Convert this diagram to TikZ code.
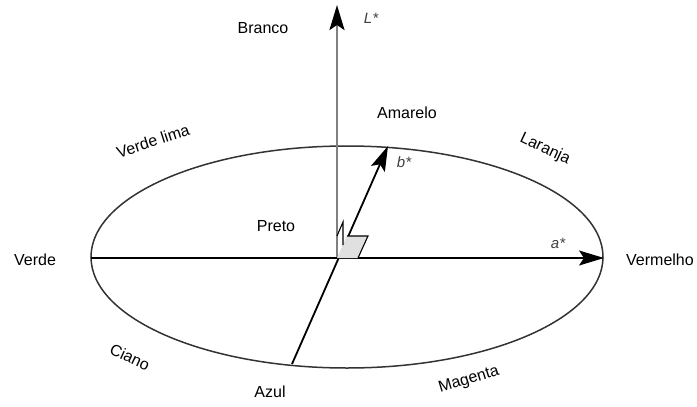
\documentclass[tikz,border=0pt]{standalone}
\usepackage{fontspec}
\setmainfont{Liberation Sans}
\usetikzlibrary{arrows.meta,calc}

\begin{document}
\begin{tikzpicture}[
    x=1pt, y=-1pt,
    every node/.style={font=\fontsize{16}{19}\selectfont, inner sep=0pt},
    colour/.style={align=center},
    axislabel/.style={font=\fontsize{15}{17}\selectfont\itshape, text=black!75},
    axis/.style={line width=1.8pt, -{Stealth[length=25pt,width=15pt,inset=5pt,color=black]}},
    rim/.style={line width=1.5pt, draw=black!80},
    rightangle/.style={line width=1.1pt}
]
\useasboundingbox (0,0) rectangle (697,407);

% Ellipse (plano a*b*)
\draw[rim] (347,257) ellipse [x radius=256, y radius=111];

% Pontos dos eixos
\coordinate (origin) at (337,258);
\coordinate (ltop) at (337,5);
\coordinate (aleft) at (91,258);
\coordinate (atip) at (604,258);
\coordinate (bfoot) at (292,364);
\coordinate (btip) at (388,146);

% Eixos
\draw[axis, draw=black!50, line width=2.6pt] (origin) -- (ltop);
\draw[axis] (aleft) -- (atip);
\draw[axis] (bfoot) -- (btip);

% Angulos retos
\fill[black!12] (347,236) -- (368,236) -- (358,258) -- (337,258) -- cycle;
\draw[rightangle] (337,236) -- (343,222) -- (343,245);
\draw[rightangle] (347,236) -- (368,236) -- (358,258);

% Rotulos dos eixos
\node[axislabel] (lstar) at (371,18) {L*};
\node[axislabel] (astar) at (558,243) {a*};
\node[axislabel] (bstar) at (404,162) {b*};

% Cores
\node[colour] (branco) at (263,28) {Branco};
\node[colour] (amarelo) at (407,113) {Amarelo};
\node[colour, rotate=-25] (laranja) at (545,149) {Laranja};
\node[colour, rotate=18] (verdelima) at (153,141) {Verde lima};
\node[colour] (preto) at (276,226) {Preto};
\node[colour] (verde) at (35,260) {Verde};
\node[colour] (vermelho) at (660,260) {Vermelho};
\node[colour, rotate=-25] (ciano) at (130,357) {Ciano};
\node[colour] (azul) at (270,392) {Azul};
\node[colour, rotate=17] (magenta) at (469,380) {Magenta};

\end{tikzpicture}
\end{document}
